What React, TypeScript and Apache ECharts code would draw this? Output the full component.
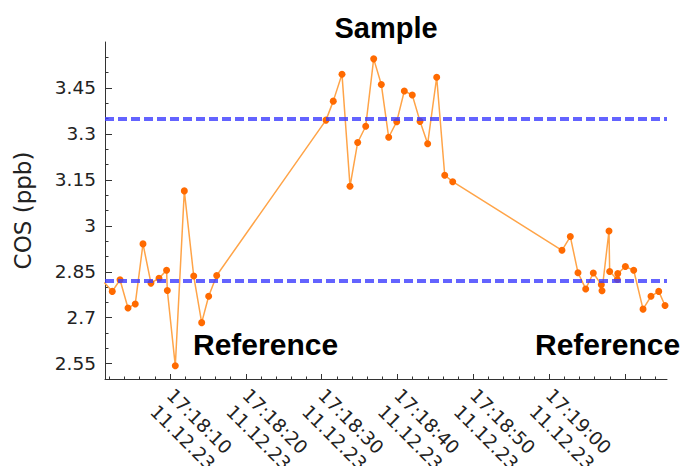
import React, { useEffect, useRef } from "react";
import * as echarts from "echarts";

// seconds after 17:18:00 on 11.12.23
const sampleSeconds = [
  1.35, 2.39, 3.41, 4.46, 5.42, 6.44, 7.49, 8.55, 9.55, 9.65,
  10.7, 11.89, 13.13, 14.18, 15.1, 16.16,
  30.57, 31.53, 32.68, 33.74, 34.75, 35.81, 36.86, 37.87, 38.84, 39.9,
  40.9, 41.95, 42.97, 43.98, 45.17, 46.23, 47.28,
  61.69, 62.79, 63.8, 64.82, 65.82, 66.88, 66.97, 67.89, 67.98, 68.99,
  69.05, 70.05, 71.15, 72.38, 73.43, 74.45, 75.28,
];
const cosValues = [
  2.815, 2.786, 2.824, 2.732, 2.745, 2.941, 2.813, 2.829, 2.855, 2.789,
  2.543, 3.114, 2.836, 2.684, 2.77, 2.838,
  3.345, 3.407, 3.495, 3.129, 3.272, 3.325, 3.545, 3.461, 3.289, 3.34,
  3.44, 3.427, 3.341, 3.268, 3.485, 3.165, 3.144,
  2.92, 2.965, 2.847, 2.794, 2.846, 2.808, 2.788, 2.983, 2.851, 2.825,
  2.844, 2.867, 2.855, 2.728, 2.77, 2.786, 2.74,
];
const referenceLevel = 2.82;
const sampleLevel = 3.35;

const xMin = 1.43;
const xMax = 75.54;
const xMajorTicks = [10, 20, 30, 40, 50, 60, 70];
const xLabelTicks = [10, 20, 30, 40, 50, 60];
const xMinorTicks = [2, 4, 6, 8, 12, 14, 16, 18, 22, 24, 26, 28, 32, 34, 36, 38, 42, 44, 46, 48, 52, 54, 56, 58, 62, 64, 66, 68, 72, 74];
const dateLabel = "11.12.23";

const yMin = 2.5;
const yMax = 3.6;
const yLabelValues = [2.55, 2.7, 2.85, 3, 3.15, 3.3, 3.45];
const yMinorTicks = [2.6, 2.65, 2.75, 2.8, 2.9, 2.95, 3.05, 3.1, 3.2, 3.25, 3.35, 3.4, 3.5, 3.55];

const pad = (n: number) => (n < 10 ? "0" + n : "" + n);
const fmtTime = (s: number) => {
  const total = 17 * 3600 + 18 * 60 + Math.round(s);
  const h = Math.floor(total / 3600);
  const m = Math.floor((total % 3600) / 60);
  const sec = total % 60;
  return `${pad(h)}:${pad(m)}:${pad(sec)}`;
};

export default function App() {
  const ref = useRef<HTMLDivElement>(null);
  useEffect(() => {
    if (!ref.current) return;
    const chart = echarts.init(ref.current, undefined, { renderer: "svg" });
    const axisColor = "#333";
    const font = "DejaVu Sans";
    const titleFont = "Liberation Sans";
    // second label line: one line-height down-left of the first (rotated frame)
    const lineGapX = 16.3;
    const lineGapY = 16.3;
    const pxPerSecond = (684 - 105 - 17) / (xMax - xMin);
    const dateShift = lineGapX / pxPerSecond;
    const labelCommon = {
      show: true,
      showMinLabel: true,
      showMaxLabel: true,
      hideOverlap: false,
      rotate: -45,
      fontFamily: font,
      fontSize: 18.5,
      color: "#222",
    };
    chart.setOption({
      animation: false,
      backgroundColor: "#fff",
      grid: { left: 105, right: 17, top: 42, bottom: 87, containLabel: false, outerBoundsMode: "none" },
      xAxis: [
        {
          type: "value",
          min: xMin,
          max: xMax,
          position: "bottom",
          axisLine: { show: true, lineStyle: { color: axisColor, width: 1 } },
          axisTick: { show: true, inside: true, length: 2.5, customValues: xMinorTicks, lineStyle: { color: axisColor } },
          axisLabel: { show: false },
          splitLine: { show: false },
        },
        {
          type: "value",
          min: xMin,
          max: xMax,
          position: "bottom",
          axisLine: { show: false },
          axisTick: { show: true, inside: true, length: 5, customValues: xMajorTicks, lineStyle: { color: axisColor } },
          axisLabel: {
            ...labelCommon,
            customValues: xLabelTicks,
            margin: 13,
            formatter: (v: number) => fmtTime(v),
          },
          splitLine: { show: false },
        },
        {
          type: "value",
          min: xMin,
          max: xMax,
          position: "bottom",
          axisLine: { show: false },
          axisTick: { show: false },
          axisLabel: {
            ...labelCommon,
            customValues: xLabelTicks.map((v) => v - dateShift),
            margin: 13 + lineGapY,
            formatter: () => dateLabel,
          },
          splitLine: { show: false },
        },
      ],
      yAxis: [
        {
          type: "value",
          min: yMin,
          max: yMax,
          position: "left",
          name: "COS (ppb)",
          nameLocation: "middle",
          nameRotate: 90,
          nameGap: 71,
          nameTextStyle: { fontFamily: font, fontSize: 23, color: "#222" },
          axisLine: { show: true, lineStyle: { color: axisColor, width: 1 } },
          axisTick: { show: true, inside: true, length: 3.5, customValues: yMinorTicks, lineStyle: { color: axisColor } },
          axisLabel: { show: false },
          splitLine: { show: false },
        },
        {
          type: "value",
          min: yMin,
          max: yMax,
          position: "left",
          axisLine: { show: false },
          axisTick: { show: true, inside: true, length: 7, customValues: yLabelValues, lineStyle: { color: axisColor } },
          axisLabel: {
            show: true,
            customValues: yLabelValues,
            showMinLabel: true,
            showMaxLabel: true,
            margin: 9,
            fontFamily: font,
            fontSize: 18.5,
            color: "#222",
            formatter: (v: number) => String(Number(v.toFixed(2))),
          },
          splitLine: { show: false },
        },
      ],
      series: [
        {
          type: "line",
          xAxisIndex: 0,
          yAxisIndex: 0,
          data: [],
          z: 1,
          markLine: {
            silent: true,
            symbol: "none",
            label: { show: false },
            lineStyle: { color: "#3c3cff", opacity: 0.8, width: 4, type: [9, 4] },
            data: [{ yAxis: sampleLevel }, { yAxis: referenceLevel }],
          },
        },
        {
          type: "line",
          xAxisIndex: 0,
          yAxisIndex: 0,
          z: 3,
          data: sampleSeconds.map((s, i) => [s, cosValues[i]]),
          symbol: "circle",
          symbolSize: 7,
          showAllSymbol: true,
          clip: true,
          lineStyle: { color: "#ffa448", width: 1.5 },
          itemStyle: { color: "#ff6a00", borderWidth: 0 },
        },
      ],
      graphic: [
        {
          type: "text",
          x: 386,
          y: 28,
          style: { text: "Sample", font: `bold 29px "${titleFont}"`, fill: "#000", textAlign: "center", textVerticalAlign: "middle" },
        },
        {
          type: "text",
          x: 193,
          y: 344,
          style: { text: "Reference", font: `bold 30px "${titleFont}"`, fill: "#000", textAlign: "left", textVerticalAlign: "middle" },
        },
        {
          type: "text",
          x: 535,
          y: 344,
          style: { text: "Reference", font: `bold 30px "${titleFont}"`, fill: "#000", textAlign: "left", textVerticalAlign: "middle" },
        },
      ],
    });
    return () => chart.dispose();
  }, []);
  return <div ref={ref} style={{ position: "fixed", left: 0, top: 0, width: 684, height: 466 }} />;
}
